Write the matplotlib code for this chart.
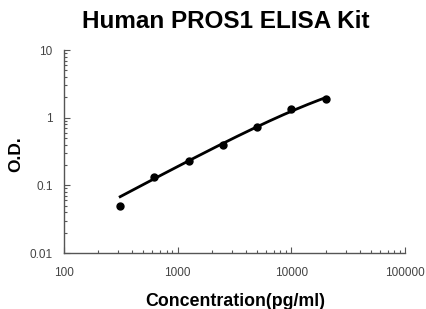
import numpy as np
import matplotlib
matplotlib.use("Agg")
import matplotlib.pyplot as plt
from matplotlib.ticker import LogLocator, NullFormatter, FixedLocator, FixedFormatter

plt.rcParams['font.family'] = ['Liberation Sans', 'DejaVu Sans']

conc = [312.5, 625, 1250, 2500, 5000, 10000, 20000]
od = [0.050, 0.131, 0.226, 0.39, 0.74, 1.36, 1.90]

xticks = [100, 1000, 10000, 100000]
xticklabels = ["100", "1000", "10000", "100000"]
yticks = [0.01, 0.1, 1, 10]
yticklabels = ["0.01", "0.1", "1", "10"]


def fit_logistic(x, y):
    """Logistic fit (lower asymptote 0) by least squares in log space."""
    x = np.asarray(x, float)
    ly = np.log(np.asarray(y, float))
    best = None
    for b in np.linspace(0.5, 3.0, 251):
        for lc in np.linspace(3.0, 6.0, 301):
            t = (x / 10 ** lc) ** b
            lg = np.log(t / (1 + t))
            ld = np.mean(ly - lg)
            r = np.sum((ld + lg - ly) ** 2)
            if best is None or r < best[0]:
                best = (r, b, 10 ** lc, np.exp(ld))
    return best[1:]


# the lowest calibrator lies off the fitted curve in the original
b, c, d = fit_logistic(conc[1:], od[1:])

fig = plt.figure(figsize=(4.26, 3.09), dpi=100)
ax = fig.add_axes([0.150, 0.181, 0.801, 0.657])

xs = np.logspace(np.log10(conc[0]), np.log10(conc[-1]), 200)
t = (xs / c) ** b
ys = d * t / (1 + t)
ax.plot(xs, ys, color='black', lw=2.0, zorder=2)
ax.plot(conc, od, 'o', color='black', ms=5, zorder=3)

ax.set_xscale('log')
ax.set_yscale('log')
ax.set_xlim(100, 100000)
ax.set_ylim(0.01, 10)

ax.xaxis.set_major_locator(FixedLocator(xticks))
ax.xaxis.set_major_formatter(FixedFormatter(xticklabels))
ax.yaxis.set_major_locator(FixedLocator(yticks))
ax.yaxis.set_major_formatter(FixedFormatter(yticklabels))
ax.xaxis.set_minor_locator(LogLocator(base=10, subs=np.arange(2, 10)))
ax.yaxis.set_minor_locator(LogLocator(base=10, subs=np.arange(2, 10)))
ax.xaxis.set_minor_formatter(NullFormatter())
ax.yaxis.set_minor_formatter(NullFormatter())

for s in ['top', 'right']:
    ax.spines[s].set_visible(False)
for s in ['left', 'bottom']:
    ax.spines[s].set_color('#555555')
    ax.spines[s].set_linewidth(1.0)

ax.tick_params(which='major', direction='in', length=4, width=0.8, color='#555555',
               labelsize=8.5, labelcolor='#444444')
ax.tick_params(axis='x', which='major', pad=10)
ax.tick_params(axis='y', which='major', pad=8)
ax.tick_params(which='minor', direction='in', length=2.5, width=0.8, color='#555555')

fig.text(0.552, 0.023, "Concentration(pg/ml)", ha='center', va='center',
         fontsize=12.8, fontweight='bold')
fig.text(0.038, 0.50, "O.D.", ha='center', va='center', rotation=90,
         fontsize=12.5, fontweight='bold')
fig.text(0.531, 0.932, "Human PROS1 ELISA Kit", ha='center', va='center',
         fontsize=17.5, fontweight='bold')

fig.savefig("out.png", dpi=100)
